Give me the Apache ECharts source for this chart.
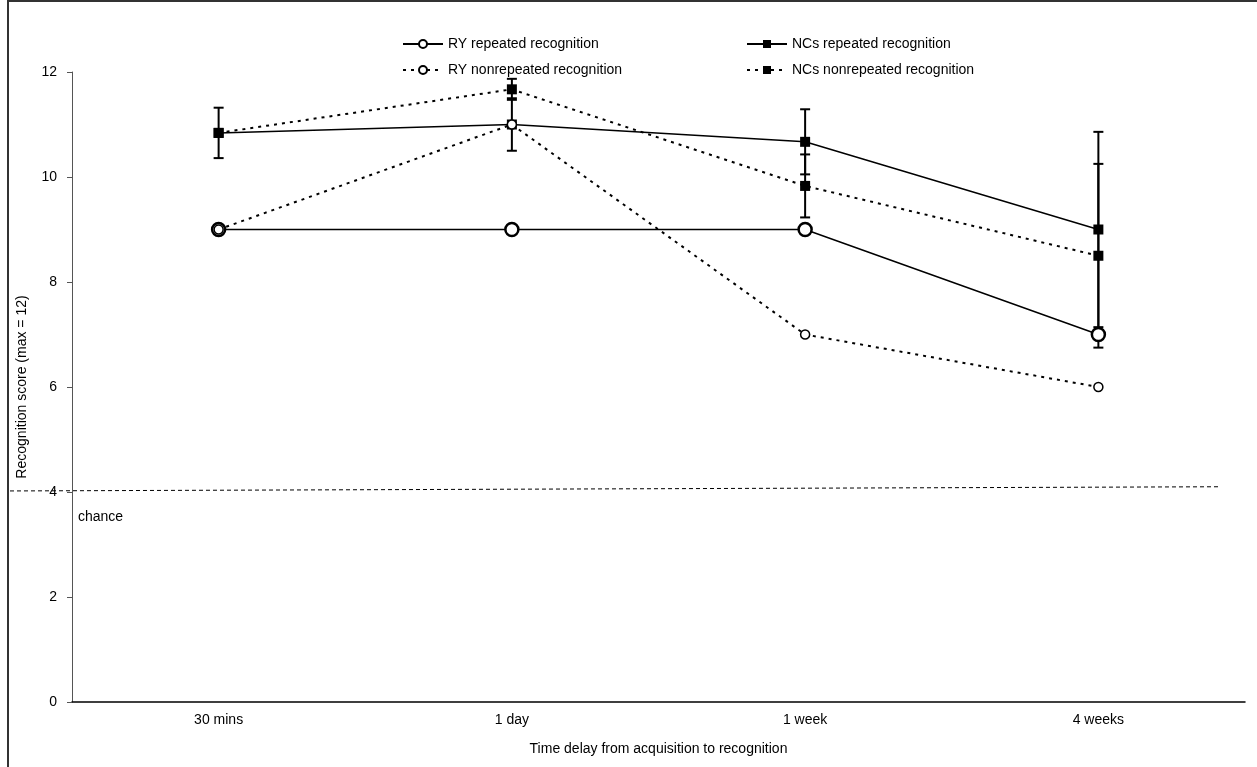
<!DOCTYPE html>
<html>
<head>
<meta charset="utf-8">
<script src="https://cdn.jsdelivr.net/npm/echarts@6/dist/echarts.min.js"></script>
<style>
  html, body { margin: 0; padding: 0; background: #fff; }
  #chart { width: 1257px; height: 767px; }
</style>
</head>
<body>
<div id="chart"></div>
<script>
// data
const categories = ['30 mins', '1 day', '1 week', '4 weeks'];
const ryRepeated = [9, 9, 9, 7];
const ryNonrepeated = [9, 11, 7, 6];
const ncRepeated = [10.84, 11, 10.67, 9];
const ncNonrepeated = [10.84, 11.67, 9.83, 8.5];
const ncRepeatedErr = [0.48, 0.5, 0.62, 1.86];
const ncNonrepeatedErr = [0, 0.2, 0.6, 1.75];
const chanceLevel = [4.02, 4.1]; // dashed line drifts slightly upward
const yTicks = [0, 2, 4, 6, 8, 10, 12];

const font = 'Arial, "Liberation Sans", sans-serif';

function errData(vals, errs) {
  const out = [];
  vals.forEach((v, i) => {
    if (errs[i] > 0) out.push([i, v + errs[i], v - errs[i]]);
  });
  return out;
}

function renderErr(params, api) {
  const x = api.value(0);
  const top = api.coord([x, api.value(1)]);
  const bot = api.coord([x, api.value(2)]);
  const half = 5;
  const style = { stroke: '#000', lineWidth: 2 };
  return {
    type: 'group',
    children: [
      { type: 'line', shape: { x1: top[0], y1: top[1], x2: bot[0], y2: bot[1] }, style },
      { type: 'line', shape: { x1: top[0] - half, y1: top[1], x2: top[0] + half, y2: top[1] }, style },
      { type: 'line', shape: { x1: bot[0] - half, y1: bot[1], x2: bot[0] + half, y2: bot[1] }, style }
    ]
  };
}

const chart = echarts.init(document.getElementById('chart'));

const textStyle = { fontFamily: font, fontSize: 14, color: '#000' };

const legendBase = {
  orient: 'vertical',
  top: 32,
  itemWidth: 40,
  itemHeight: 10,
  itemGap: 12,
  textStyle
};

chart.setOption({
  animation: false,
  backgroundColor: '#fff',
  textStyle: { fontFamily: font },
  grid: { left: 72, right: 12, top: 72, bottom: 65 },
  legend: [
    { ...legendBase, left: 397, data: ['RY repeated recognition', 'RY nonrepeated recognition'] },
    { ...legendBase, left: 741, data: ['NCs repeated recognition', 'NCs nonrepeated recognition'] }
  ],
  xAxis: {
    type: 'category',
    data: categories,
    boundaryGap: true,
    name: 'Time delay from acquisition to recognition',
    nameLocation: 'middle',
    nameGap: 40,
    nameTextStyle: textStyle,
    axisLine: { lineStyle: { color: '#000', width: 1.5 } },
    axisTick: { interval: 0, length: 5, lineStyle: { color: '#000' } },
    axisLabel: { ...textStyle, margin: 11 },
    splitLine: { show: false }
  },
  yAxis: {
    type: 'value',
    min: yTicks[0],
    max: yTicks[yTicks.length - 1],
    interval: 2,
    name: 'Recognition score (max = 12)',
    nameLocation: 'middle',
    nameRotate: 90,
    nameGap: 43,
    nameTextStyle: textStyle,
    axisLine: { show: true, lineStyle: { color: '#555', width: 1 } },
    axisTick: { show: true, length: 5, lineStyle: { color: '#555' } },
    axisLabel: { ...textStyle, margin: 15 },
    splitLine: { show: false }
  },
  series: [
    {
      name: 'NCs repeated error',
      type: 'custom',
      renderItem: renderErr,
      data: errData(ncRepeated, ncRepeatedErr),
      encode: { x: 0, y: [1, 2] },
      z: 1,
      silent: true
    },
    {
      name: 'NCs nonrepeated error',
      type: 'custom',
      renderItem: renderErr,
      data: errData(ncNonrepeated, ncNonrepeatedErr),
      encode: { x: 0, y: [1, 2] },
      z: 1,
      silent: true
    },
    {
      name: 'RY repeated recognition',
      type: 'line',
      data: ryRepeated,
      symbol: 'circle',
      symbolSize: 13,
      lineStyle: { color: '#000', width: 1.5, type: 'solid' },
      itemStyle: { color: '#fff', borderColor: '#000', borderWidth: 2.5 },
      z: 3
    },
    {
      name: 'NCs repeated recognition',
      type: 'line',
      data: ncRepeated,
      symbol: 'rect',
      symbolSize: 10,
      lineStyle: { color: '#000', width: 1.5, type: 'solid' },
      itemStyle: { color: '#000', borderColor: '#000', borderWidth: 0 },
      z: 3
    },
    {
      name: 'RY nonrepeated recognition',
      type: 'line',
      data: ryNonrepeated,
      symbol: 'circle',
      symbolSize: 9,
      lineStyle: { color: '#000', width: 2, type: [3, 5] },
      itemStyle: { color: '#fff', borderColor: '#000', borderWidth: 1.5 },
      z: 3
    },
    {
      name: 'NCs nonrepeated recognition',
      type: 'line',
      data: ncNonrepeated,
      symbol: 'rect',
      symbolSize: 10,
      lineStyle: { color: '#000', width: 2, type: [3, 5] },
      itemStyle: { color: '#000', borderColor: '#000', borderWidth: 0 },
      z: 3
    }
  ]
});

// chance line + figure frame, positioned through the y scale
const yLeft = chart.convertToPixel({ yAxisIndex: 0 }, chanceLevel[0]);
const yRight = chart.convertToPixel({ yAxisIndex: 0 }, chanceLevel[1]);
chart.setOption({
  graphic: [
    {
      type: 'rect',
      shape: { x: 8, y: 1, width: 1300, height: 800 },
      style: { fill: 'none', stroke: '#333', lineWidth: 2 },
      silent: true
    },
    {
      type: 'line',
      shape: { x1: 10, y1: yLeft, x2: 1220, y2: yRight },
      style: { stroke: '#000', lineWidth: 1, lineDash: [4, 3] },
      silent: true
    },
    {
      type: 'text',
      left: 78,
      top: yLeft + 19,
      style: { text: 'chance', font: '14px ' + font, fill: '#000' },
      silent: true
    }
  ]
});
</script>
</body>
</html>
